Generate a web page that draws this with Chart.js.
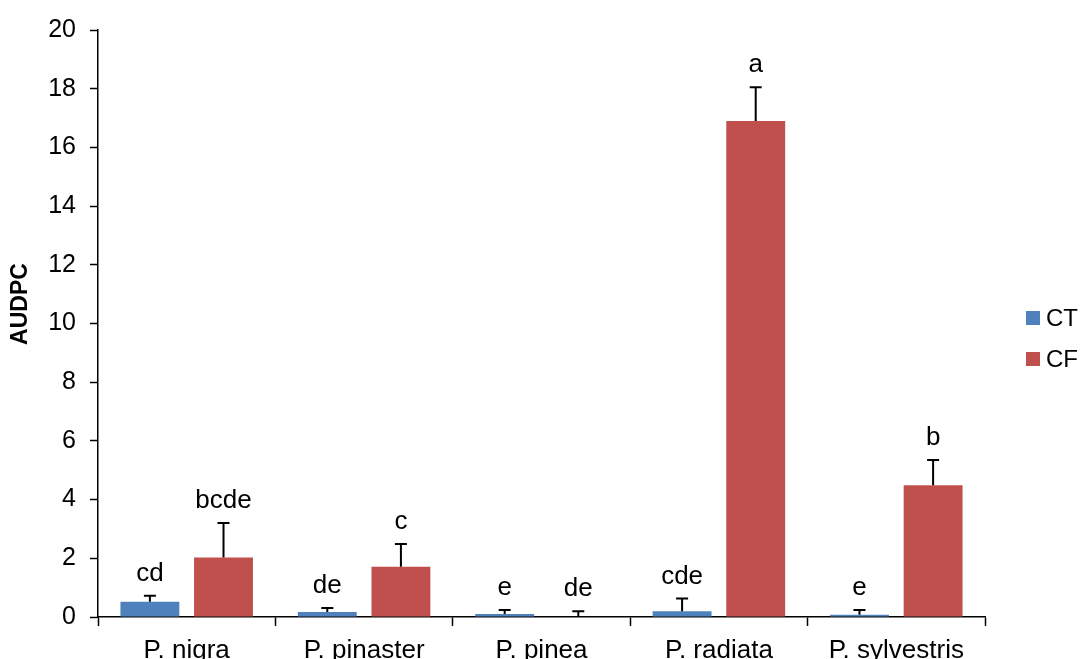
<!DOCTYPE html>
<html>
<head>
<meta charset="utf-8">
<script src="https://cdn.jsdelivr.net/npm/chart.js@4.4.0/dist/chart.umd.min.js"></script>
<style>
    html, body { margin: 0; padding: 0; background: #fff; overflow: hidden; }
    #wrap { width: 1083px; height: 659px; }
</style>
</head>
<body>
<div id="wrap"><canvas id="audpcChart"></canvas></div>
<script>
// AUDPC per pine species, CT vs CF

const categories = ['P. nigra', 'P. pinaster', 'P. pinea', 'P. radiata', 'P. sylvestris'];
const seriesNames = ['CT', 'CF'];
const ctValues = [0.52, 0.17, 0.10, 0.20, 0.08];
const cfValues = [2.03, 1.71, 0.00, 16.90, 4.49];
const ctErrors = [0.20, 0.14, 0.14, 0.43, 0.16];
const cfErrors = [1.17, 0.78, 0.20, 1.15, 0.86];
const ctLetters = ['cd', 'de', 'e', 'cde', 'e'];
const cfLetters = ['bcde', 'c', 'de', 'a', 'b'];
const yMin = 0, yMax = 20, yStep = 2;

const colors = ['#4F81BD', '#C0504D'];
const FONT = '"Liberation Sans", Arial, sans-serif';

// error bars, significance letters, y title and legend
const extrasPlugin = {
    id: 'extras',
    afterDatasetsDraw(chart) {
        const ctx = chart.ctx;
        const yScale = chart.scales.y;
        const errs = [ctErrors, cfErrors];
        const letters = [ctLetters, cfLetters];
        ctx.save();
        chart.data.datasets.forEach((ds, i) => {
            const meta = chart.getDatasetMeta(i);
            meta.data.forEach((bar, j) => {
                const top = yScale.getPixelForValue(ds.data[j] + errs[i][j]);
                const base = yScale.getPixelForValue(ds.data[j]);
                ctx.strokeStyle = '#000';
                ctx.lineWidth = 2;
                ctx.beginPath();
                ctx.moveTo(bar.x, base);
                ctx.lineTo(bar.x, top);
                ctx.moveTo(bar.x - 6, top);
                ctx.lineTo(bar.x + 6, top);
                ctx.stroke();

                ctx.fillStyle = '#000';
                ctx.font = '26px ' + FONT;
                ctx.textAlign = 'center';
                ctx.textBaseline = 'alphabetic';
                ctx.fillText(letters[i][j], bar.x, top - 15);
            });
        });

        // y axis title
        ctx.save();
        ctx.translate(21, 304);
        ctx.rotate(-Math.PI / 2);
        ctx.font = 'bold 23px ' + FONT;
        ctx.textAlign = 'center';
        ctx.textBaseline = 'middle';
        ctx.fillText('AUDPC', 0, 0);
        ctx.restore();

        // legend
        const legendY = [318, 359];
        chart.data.datasets.forEach((ds, i) => {
            ctx.fillStyle = ds.backgroundColor;
            ctx.fillRect(1026, legendY[i] - 7, 14, 14);
            ctx.fillStyle = '#000';
            ctx.font = '24px ' + FONT;
            ctx.textAlign = 'left';
            ctx.textBaseline = 'middle';
            ctx.fillText(ds.label, 1046, legendY[i] + 1);
        });
        ctx.restore();
    }
};

const ctx = document.getElementById('audpcChart').getContext('2d');
new Chart(ctx, {
    type: 'bar',
    data: {
        labels: categories,
        datasets: [
            { label: seriesNames[0], data: ctValues, backgroundColor: colors[0], categoryPercentage: 0.83, barPercentage: 0.8 },
            { label: seriesNames[1], data: cfValues, backgroundColor: colors[1], categoryPercentage: 0.83, barPercentage: 0.8 }
        ]
    },
    options: {
        responsive: true,
        maintainAspectRatio: false,
        animation: false,
        layout: { padding: { top: 30, right: 98, left: 0, bottom: 0 } },
        plugins: {
            legend: { display: false },
            tooltip: { enabled: false }
        },
        scales: {
            x: {
                afterFit(scale) { scale.height = 42; },
                grid: {
                    offset: true,
                    drawOnChartArea: false,
                    drawTicks: true,
                    tickLength: 9,
                    tickColor: '#000',
                    tickWidth: 1.5
                },
                border: { display: true, color: '#000', width: 1.5 },
                ticks: {
                    color: '#000',
                    padding: 9,
                    maxRotation: 0,
                    autoSkip: false,
                    font: { family: FONT, size: 26 }
                }
            },
            y: {
                min: yMin,
                max: yMax,
                afterFit(scale) { scale.width = 98; },
                grid: {
                    drawOnChartArea: false,
                    drawTicks: true,
                    tickLength: 8,
                    tickColor: '#000',
                    tickWidth: 1.5
                },
                border: { display: true, color: '#000', width: 1.5 },
                ticks: {
                    stepSize: yStep,
                    color: '#000',
                    padding: 14,
                    font: { family: FONT, size: 25 }
                }
            }
        }
    },
    plugins: [extrasPlugin]
});
</script>
</body>
</html>
